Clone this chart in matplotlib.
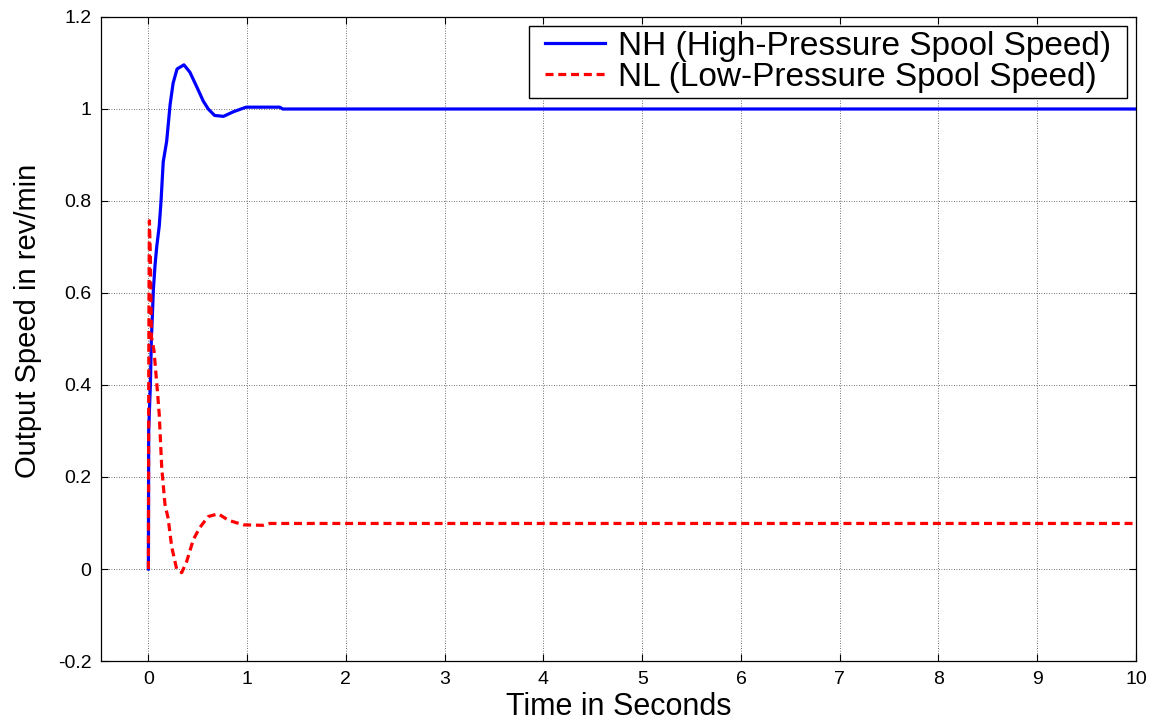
import matplotlib
matplotlib.use("Agg")
import matplotlib.pyplot as plt
import numpy as np

# Data
nh_t = [0.0, 0.003, 0.01, 0.02, 0.03, 0.04, 0.05, 0.067, 0.084, 0.11, 0.128, 0.15, 0.185,
        0.22, 0.25, 0.29, 0.36, 0.42, 0.49, 0.556, 0.606, 0.67, 0.76, 0.86, 0.99, 1.33, 1.36, 10.0]
nh_y = [0.0, 0.30, 0.343, 0.40, 0.50, 0.55, 0.606, 0.66, 0.70, 0.746, 0.80, 0.885, 0.93,
        1.01, 1.056, 1.087, 1.096, 1.08, 1.048, 1.017, 1.0, 0.986, 0.984, 0.994, 1.004, 1.004, 1.0, 1.0]

nl_t = [0.0, 0.003, 0.006, 0.01, 0.02, 0.03, 0.057, 0.09, 0.11, 0.135, 0.168, 0.2, 0.236,
        0.286, 0.337, 0.387, 0.455, 0.52, 0.606, 0.707, 0.81, 0.96, 1.16, 1.23, 10.0]
nl_y = [0.0, 0.37, 0.60, 0.757, 0.68, 0.505, 0.474, 0.39, 0.335, 0.22, 0.14, 0.11, 0.048,
        0.0, -0.008, 0.016, 0.064, 0.09, 0.114, 0.12, 0.106, 0.096, 0.095, 0.099, 0.099]

x_ticks = [0, 1, 2, 3, 4, 5, 6, 7, 8, 9, 10]
y_ticks = [-0.2, 0, 0.2, 0.4, 0.6, 0.8, 1, 1.2]
y_tick_labels = ["-0.2", "0", "0.2", "0.4", "0.6", "0.8", "1", "1.2"]

nh_label = "NH (High-Pressure Spool Speed)"
nl_label = "NL (Low-Pressure Spool Speed)"

fam = ["Liberation Sans", "DejaVu Sans"]

fig = plt.figure(figsize=(11.54, 7.2), dpi=100)
ax = fig.add_axes([101/1154, 1 - 661/720, (1136-101)/1154, (661-17)/720])

ax.plot(nh_t, nh_y, color="#0000ff", lw=2.3, label=nh_label)
ax.plot(nl_t, nl_y, color="#ff0000", lw=2.3, ls=(0, (2.5, 1.5)), label=nl_label)

ax.set_xlim(-0.48, 10)
ax.set_ylim(-0.2, 1.2)
ax.set_xticks(x_ticks)
ax.set_xticklabels([str(v) for v in x_ticks], fontfamily=fam, fontsize=14)
ax.set_yticks(y_ticks)
ax.set_yticklabels(y_tick_labels, fontfamily=fam, fontsize=14)
ax.tick_params(direction="in", top=True, right=True, length=5, width=0.8, pad=7)
ax.grid(True, color="#444444", ls=(0, (1, 2)), lw=0.6)
for s in ax.spines.values():
    s.set_linewidth(0.9)

ax.set_xlabel("Time in Seconds", fontfamily=fam, fontsize=22, labelpad=3)
ax.set_ylabel("Output Speed in rev/min", fontfamily=fam, fontsize=21)
ax.yaxis.set_label_coords(-0.057, 0.528)

leg = ax.legend(loc="upper right", prop={"family": fam, "size": 24}, fancybox=False,
                edgecolor="black", framealpha=1, borderaxespad=0.0,
                bbox_to_anchor=(1116/1154, 1 - 26/720), bbox_transform=fig.transFigure,
                handlelength=1.8, handletextpad=0.4, borderpad=0.15, labelspacing=0.0)
frame = leg.get_frame()
frame.set_linewidth(1.0)
frame.set_boxstyle("square", pad=0.33)
frame.set_mutation_aspect(0.03)

fig.savefig("out.png", dpi=100)
